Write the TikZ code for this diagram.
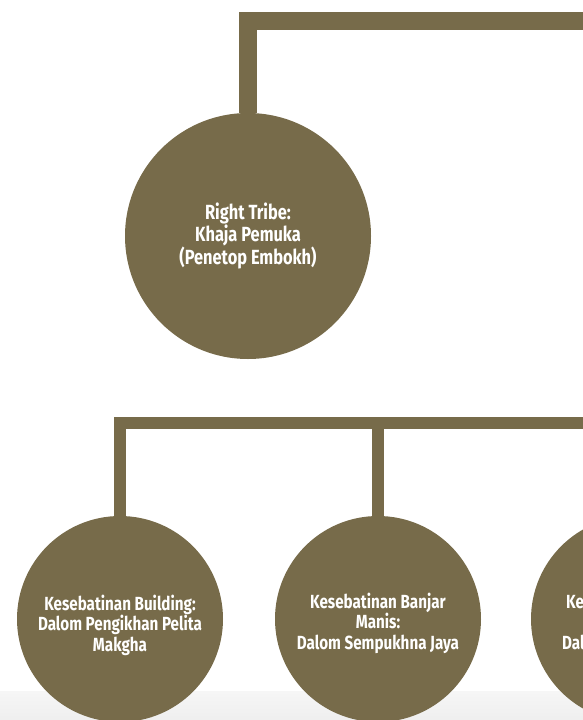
\documentclass[tikz,border=0pt]{standalone}
\usepackage{fontspec}
\setmainfont{Fira Sans}[FakeStretch=0.8]
\usepackage{tikz}
\definecolor{tribebrown}{RGB}{119,107,74}
\tikzset{
  tribe/.style={circle, fill=tribebrown, text=white, align=center, inner sep=0pt, font=\bfseries\fontsize{20.5}{22}\selectfont},
  clan/.style={circle, fill=tribebrown, minimum size=206, inner sep=0pt},
  clantext/.style={text=white, align=center, inner sep=0pt, font=\bfseries\fontsize{19}{20.5}\selectfont},
  link/.style={draw=tribebrown, line width=12}
}

\begin{document}
\begin{tikzpicture}[x=1pt,y=-1pt]
\useasboundingbox (0,0) rectangle (583,720);
\shade [top color=gray!7, bottom color=gray!13] (0,691) rectangle (583,720);

\node [tribe, minimum size=246] (rt) at (248,236) {Right Tribe:\\Khaja Pemuka\\(Penetop Embokh)};
\coordinate (rtend) at (583,20.5);
\draw [link, line width=18] (rt.north) |- (rtend);

\node [clan] (kb) at (120,619) {}; \node [clantext] (kbtext) at ([yshift=-6pt]kb.center) {Kesebatinan Building:\\Dalom Pengikhan Pelita\\Makgha};
\node [clan] (kbm) at (378,619) {}; \node [clantext] (kbmtext) at ([yshift=-4pt]kbm.center) {Kesebatinan Banjar\\Manis:\\Dalom Sempukhna Jaya};
\node [clan] (kx) at (634,619) {};
\node [clantext, anchor=west] (kxtop) at (566,602) {Ke};
\node [clantext, anchor=west] (kxbot) at (562,642) {Dal};

\coordinate (clanend) at (583,423);
\draw [link] (kb.north) |- (clanend);
\draw [link] (kbm.north) -- (kbm.north |- clanend);

\end{tikzpicture}
\end{document}
